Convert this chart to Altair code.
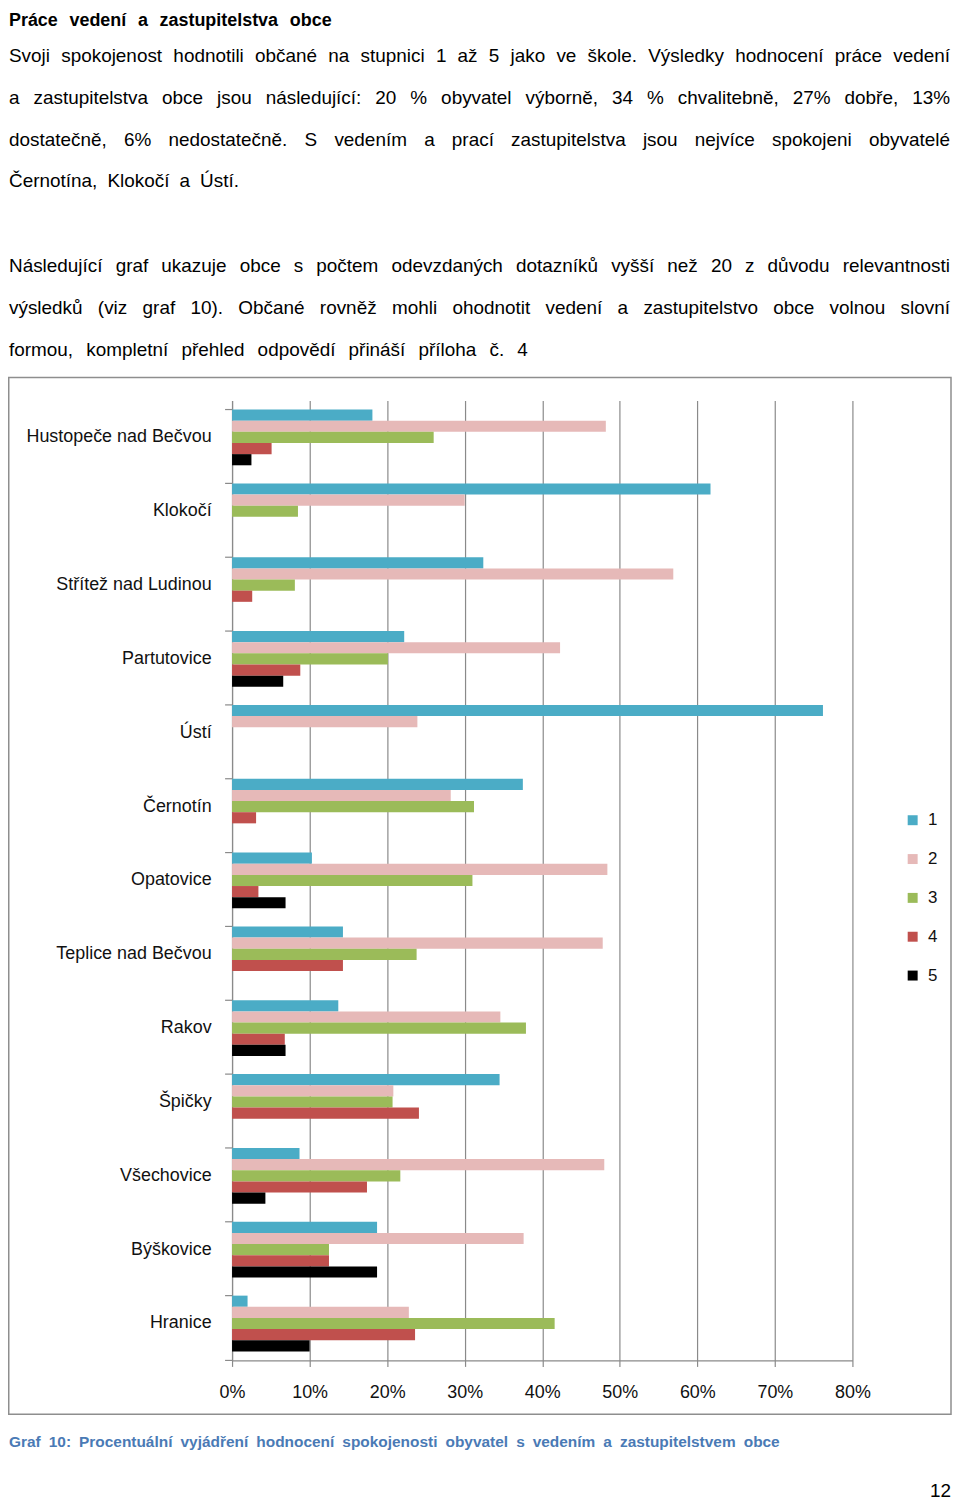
import unicodedata
import altair as alt
import pandas as pd

# ---------------- data ----------------
towns = ["Hustopeče nad Bečvou", "Klokočí", "Střítež nad Ludinou", "Partutovice", "Ústí",
         "Černotín", "Opatovice", "Teplice nad Bečvou", "Rakov", "Špičky", "Všechovice",
         "Býškovice", "Hranice"]
ratings = ["1", "2", "3", "4", "5"]
r1 = [18.1, 61.7, 32.4, 22.2, 76.2, 37.5, 10.3, 14.3, 13.7, 34.5, 8.7, 18.7, 2.0]
r2 = [48.2, 30.0, 56.9, 42.3, 23.9, 28.2, 48.4, 47.8, 34.6, 20.8, 48.0, 37.6, 22.8]
r3 = [26.0, 8.5, 8.1, 20.1, 0.0, 31.2, 31.0, 23.8, 37.9, 20.7, 21.7, 12.5, 41.6]
r4 = [5.1, 0.0, 2.6, 8.8, 0.0, 3.1, 3.4, 14.3, 6.8, 24.1, 17.4, 12.5, 23.6]
r5 = [2.5, 0.0, 0.0, 6.6, 0.0, 0.0, 6.9, 0.0, 6.9, 0.0, 4.3, 18.7, 10.0]
x_ticks = [0, 10, 20, 30, 40, 50, 60, 70, 80]
colors = ["#4BACC6", "#E6B9B8", "#9BBB59", "#C0504D", "#000000"]

title_text = "Práce vedení a zastupitelstva obce"
para1 = [
    "Svoji spokojenost hodnotili občané na stupnici 1 až 5 jako ve škole.  Výsledky hodnocení práce vedení",
    "a zastupitelstva obce jsou následující: 20 % obyvatel výborně, 34  % chvalitebně, 27% dobře, 13%",
    "dostatečně, 6% nedostatečně. S vedením a prací zastupitelstva jsou nejvíce spokojeni obyvatelé",
    "Černotína, Klokočí a Ústí.",
]
para2 = [
    "Následující graf ukazuje obce s počtem odevzdaných dotazníků vyšší než 20 z důvodu relevantnosti",
    "výsledků (viz graf 10). Občané rovněž mohli ohodnotit vedení a zastupitelstvo obce volnou slovní",
    "formou, kompletní přehled odpovědí přináší příloha č. 4",
]
caption_text = "Graf 10: Procentuální vyjádření hodnocení spokojenosti obyvatel s vedením a zastupitelstvem obce"
page_number = "12"

FONT = "Liberation Sans"
GRID = "#8a8a8a"

# ---------------- layout (page -> plot coordinates) ----------------
PLOT_X0, PLOT_Y0 = 233, 399      # plot origin on the page
PAD_L, PAD_T = PLOT_X0 - 8, PLOT_Y0 - 8
W, H = 623, 964
SVG_W, SVG_H = 948, 1492
LEFT, RIGHT = 9, 954


def px(x):
    return x - PLOT_X0


def py(y):
    return y - PLOT_Y0


REG = dict(zip(" !%(),.:0123456789", [278, 278, 889, 333, 333, 278, 278, 278] + [556] * 10))
REG.update(dict(zip("ABCDEFGHIJKLMNOPQRSTUVWXYZ",
                    [667, 667, 722, 722, 667, 611, 778, 722, 278, 500, 667, 556, 833, 722, 778, 667,
                     778, 722, 667, 611, 722, 667, 944, 667, 667, 611])))
REG.update(dict(zip("abcdefghijklmnopqrstuvwxyz",
                    [556, 556, 500, 556, 556, 278, 556, 556, 222, 222, 500, 222, 833, 556, 556, 556,
                     556, 333, 500, 278, 556, 500, 722, 500, 500, 500])))
BOLD = dict(REG)
BOLD.update({":": 333})
BOLD.update(dict(zip("abcdefghijklmnopqrstuvwxyz",
                     [556, 611, 556, 611, 556, 333, 611, 611, 278, 278, 556, 278, 889, 611, 611, 611,
                      611, 389, 556, 333, 611, 556, 778, 556, 556, 500])))


def width(s, size, bold=False):
    table = BOLD if bold else REG
    total = 0
    for ch in s:
        if ch in "íÍ":
            total += 278
            continue
        base = unicodedata.normalize("NFD", ch)[0]
        total += table.get(base, 556)
    return total * size / 1000.0


def justify(line, left, right, y, size, bold=False):
    words = line.split()
    ws = [width(w, size, bold) for w in words]
    gap = (right - left - sum(ws)) / max(len(words) - 1, 1)
    rows, x = [], left
    for w, wd in zip(words, ws):
        rows.append({"word": w, "px": px(x), "py": py(y)})
        x += wd + gap
    return rows


body_rows = []
p1_y = [53, 95, 137, 179]
p1_r = [RIGHT, RIGHT, RIGHT, 240]
for line, y, r in zip(para1, p1_y, p1_r):
    body_rows += justify(line, LEFT, r, y, 19)
p2_y = [264, 306, 348]
p2_r = [RIGHT, RIGHT, 530]
for line, y, r in zip(para2, p2_y, p2_r):
    body_rows += justify(line, LEFT, r, y, 19)
title_rows = justify(title_text, LEFT, 333, 18, 18, bold=True)
caption_rows = justify(caption_text, LEFT, 783, 1445, 15.5, bold=True)

# ---------------- chart ----------------
long = []
for i, t in enumerate(towns):
    for rt, series in zip(ratings, [r1, r2, r3, r4, r5]):
        long.append({"town": t, "rating": rt, "value": series[i]})
bars_df = pd.DataFrame(long)

yscale = alt.Scale(domain=towns, paddingInner=0.245, paddingOuter=0.1225)

bars = alt.Chart(bars_df).mark_bar().encode(
    x=alt.X("value:Q", scale=alt.Scale(domain=[0, 80], nice=False),
            axis=alt.Axis(title=None, values=x_ticks, labelExpr="datum.value + '%'",
                          labelFontSize=18, labelFont=FONT, labelColor="#111", labelPadding=17,
                          labelFlush=False,
                          tickSize=6, tickColor=GRID, tickWidth=1.2, domainColor=GRID, domainWidth=1.2,
                          grid=True, gridColor=GRID, gridWidth=1.2)),
    y=alt.Y("town:N", sort=towns, scale=yscale,
            axis=alt.Axis(title=None, ticks=False, tickSize=0, labelFontSize=18, labelFont=FONT,
                          labelColor="#111", labelPadding=21, labelLimit=0, domainColor=GRID,
                          domainWidth=1.2, grid=False)),
    yOffset=alt.YOffset("rating:N", sort=ratings,
                        scale=alt.Scale(domain=ratings, paddingInner=0, paddingOuter=0)),
    color=alt.Color("rating:N", scale=alt.Scale(domain=ratings, range=colors),
                    legend=alt.Legend(title=None, orient="none", legendX=675, legendY=413,
                                      symbolType="square", symbolSize=100, symbolStrokeWidth=0,
                                      labelFontSize=17, labelFont=FONT, labelColor="#111",
                                      rowPadding=21, labelOffset=7, padding=0)),
)

ticks = alt.Chart(pd.DataFrame({"town": towns})).mark_rule(color=GRID, strokeWidth=1.2).encode(
    y=alt.Y("town:N", sort=towns, scale=yscale, bandPosition=0, axis=None),
    x=alt.value(-7), x2=alt.value(0),
)
bottom_tick = alt.Chart(pd.DataFrame({"a": [0]})).mark_rule(color=GRID, strokeWidth=1.2).encode(
    y=alt.value(H), x=alt.value(-7), x2=alt.value(0),
)

frame = alt.Chart(pd.DataFrame({"a": [0]})).mark_rect(
    filled=False, color="#8e8e8e", strokeWidth=1.5
).encode(
    x=alt.value(px(8.75)), x2=alt.value(px(955)), y=alt.value(py(376)), y2=alt.value(py(1417)),
)


def text_layer(rows, size, bold, color):
    return alt.Chart(pd.DataFrame(rows)).mark_text(
        align="left", baseline="middle", fontSize=size, font=FONT,
        fontWeight="bold" if bold else "normal", color=color,
    ).encode(
        x=alt.X("px:Q", scale=None, axis=None),
        y=alt.Y("py:Q", scale=None, axis=None),
        text="word:N",
    )


body = text_layer(body_rows, 19, False, "#000000")
title = text_layer(title_rows, 18, True, "#000000")
caption = text_layer(caption_rows, 15.5, True, "#4a7ab5")
pagenum = alt.Chart(pd.DataFrame({"t": [page_number]})).mark_text(
    align="right", baseline="middle", fontSize=19, font=FONT, color="#000000"
).encode(x=alt.value(px(955)), y=alt.value(py(1494)), text="t:N")

chart = alt.layer(frame, bars, ticks, bottom_tick, body, title, caption, pagenum).resolve_scale(
    x="independent", y="independent"
).properties(
    width=W, height=H,
    autosize=alt.AutoSizeParams(type="none"),
    padding={"left": PAD_L, "top": PAD_T, "right": SVG_W - PAD_L - W, "bottom": SVG_H - PAD_T - H},
).configure_view(strokeWidth=0)

chart.save("out.html", embed_options={"renderer": "svg", "actions": False})
